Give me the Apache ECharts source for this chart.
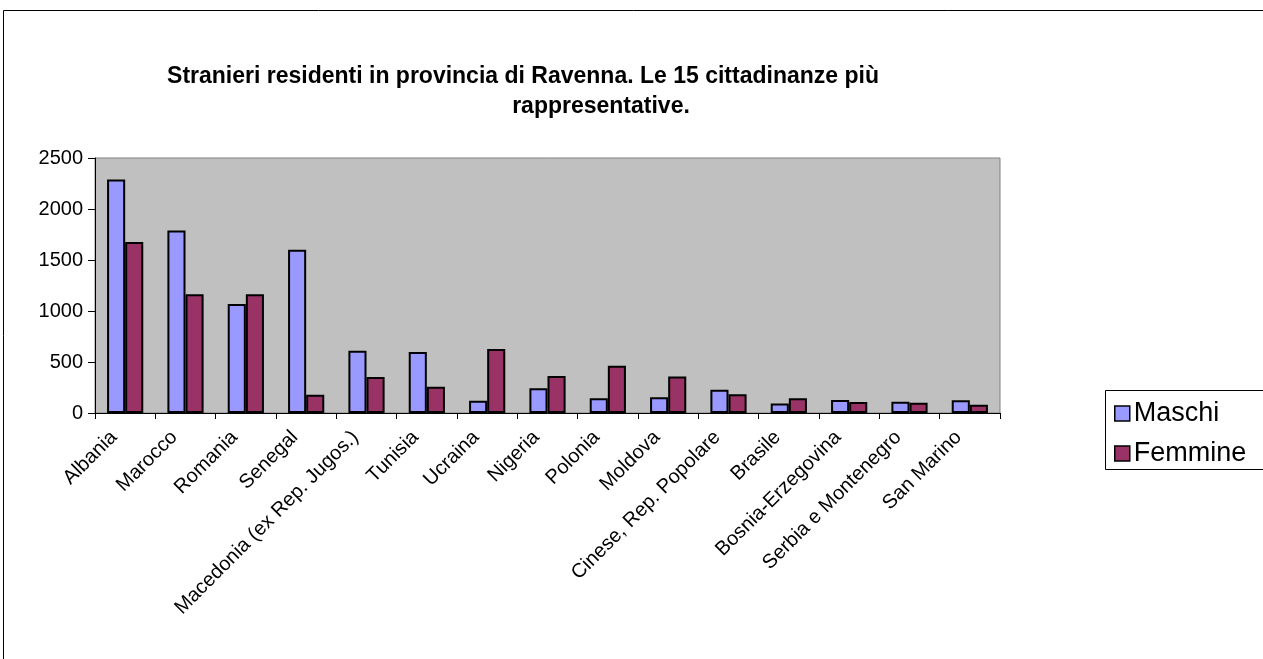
<!DOCTYPE html>
<html>
<head>
<meta charset="utf-8">
<script src="https://cdn.jsdelivr.net/npm/echarts@6/dist/echarts.min.js"></script>
<style>
html,body{margin:0;padding:0;background:#fff;}
#chart{width:1263px;height:659px;}
</style>
</head>
<body>
<div id="chart"></div>
<script>
const categories = ["Albania","Marocco","Romania","Senegal","Macedonia (ex Rep. Jugos.)","Tunisia","Ucraina","Nigeria","Polonia","Moldova","Cinese, Rep. Popolare","Brasile","Bosnia-Erzegovina","Serbia e Montenegro","San Marino"];
const maschi = [2290,1788,1069,1601,611,598,121,242,144,154,229,92,127,111,124];
const femmine = [1676,1163,1163,180,353,258,627,363,464,359,183,144,108,101,82];
const titleLine1 = "Stranieri residenti in provincia di Ravenna. Le 15 cittadinanze più";
const titleLine2 = "rappresentative.";
const yTicks = {min:0, max:2500, interval:500};

const chart = echarts.init(document.getElementById('chart'), null, {renderer:'canvas'});
const font = 'Arial, "Liberation Sans", sans-serif';
chart.setOption({
  animation:false,
  backgroundColor:'#ffffff',
  textStyle:{fontFamily:font},
  title:[
    {text:titleLine1, left:518, top:60, textAlign:'center', textStyle:{fontFamily:font, fontWeight:'bold', fontSize:23, color:'#000'}},
    {text:titleLine2, left:596, top:90, textAlign:'center', textStyle:{fontFamily:font, fontWeight:'bold', fontSize:23, color:'#000'}}
  ],
  graphic:[
    {type:'rect', shape:{x:3.5, y:10.5, width:1300, height:700}, style:{fill:null, stroke:'#000', lineWidth:1}, silent:true, z:-1},
    {type:'rect', shape:{x:1105.5, y:390.5, width:200, height:79}, style:{fill:'#fff', stroke:'#000', lineWidth:1}, silent:true, z:-1}
  ],
  legend:{
    orient:'vertical', left:1114, top:400, padding:0,
    itemWidth:15, itemHeight:15, itemGap:13,
    icon:'rect',
    itemStyle:{borderColor:'#000', borderWidth:1.5},
    textStyle:{fontFamily:font, fontSize:27, color:'#000', padding:[0,0,0,-1]},
    data:['Maschi','Femmine']
  },
  grid:{left:95, right:263, top:158, bottom:246, show:true, backgroundColor:'#C0C0C0', borderColor:'#808080', borderWidth:1},
  xAxis:{
    type:'category', data:categories, boundaryGap:true,
    axisLine:{lineStyle:{color:'#000', width:1}},
    axisTick:{show:true, length:6, lineStyle:{color:'#000'}, alignWithLabel:false},
    axisLabel:{rotate:45, interval:0, fontSize:20, color:'#000', fontFamily:font, margin:24, padding:[0,6,0,0], verticalAlign:'bottom'}
  },
  yAxis:{
    type:'value', min:yTicks.min, max:yTicks.max, interval:yTicks.interval,
    axisLine:{show:true, lineStyle:{color:'#000', width:1}},
    axisTick:{show:true, length:7, lineStyle:{color:'#000'}},
    splitLine:{show:false},
    axisLabel:{fontSize:20, color:'#000', fontFamily:font, margin:12, formatter:function(v){return String(v);}}
  },
  series:[
    {name:'Maschi', type:'bar', data:maschi, barGap:'0%', barCategoryGap:'40%',
     itemStyle:{color:'#9999FF', borderColor:'#000', borderWidth:2}},
    {name:'Femmine', type:'bar', data:femmine,
     itemStyle:{color:'#993366', borderColor:'#000', borderWidth:2}}
  ]
});
</script>
</body>
</html>
